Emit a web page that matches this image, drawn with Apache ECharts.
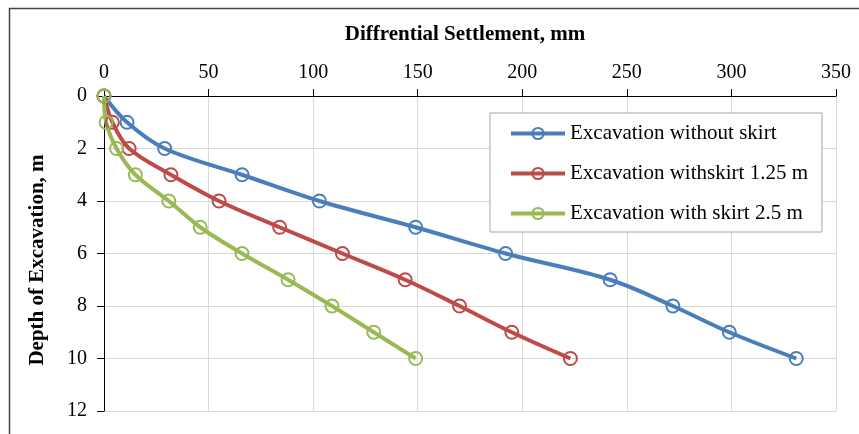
<!DOCTYPE html>
<html>
<head>
<meta charset="utf-8">
<script src="https://cdn.jsdelivr.net/npm/echarts@6/dist/echarts.min.js"></script>
<style>
html,body{margin:0;padding:0;background:#fff;}
#chart{width:859px;height:434px;}
</style>
</head>
<body>
<div id="chart"></div>
<script>
var depths = [0, 1, 2, 3, 4, 5, 6, 7, 8, 9, 10];
var withoutSkirt = [0, 11, 29, 66, 103, 149, 192, 242, 272, 299, 331];
var skirt125 = [0, 4, 12, 32, 55, 84, 114, 144, 170, 195, 223];
var skirt25 = [0, 1, 6, 15, 31, 46, 66, 88, 109, 129, 149];
var seriesNames = ['Excavation without skirt', 'Excavation withskirt 1.25 m', 'Excavation with skirt 2.5 m'];
var seriesColors = ['#4A7EBB', '#BE4B48', '#98B954'];
var xTitle = 'Diffrential Settlement, mm';
var yTitle = 'Depth of Excavation, m';

function pairs(xs) { return xs.map(function (v, i) { return [v, depths[i]]; }); }
var allValues = [withoutSkirt, skirt125, skirt25];
var font = 'Liberation Serif, Times New Roman, serif';

var chart = echarts.init(document.getElementById('chart'), null, {renderer: 'canvas'});
chart.setOption({
  backgroundColor: '#fff',
  animation: false,
  textStyle: {fontFamily: font},
  graphic: [{
    type: 'rect', left: 7, top: 6, silent: true, z: -10,
    shape: {x: 0, y: 0, width: 900, height: 500},
    style: {fill: 'none', stroke: '#444', lineWidth: 1.5}
  }, {
    type: 'text', x: 465, y: 35,
    style: {text: xTitle, font: 'bold 21px ' + font, fill: '#000', align: 'center', verticalAlign: 'middle'}
  }, {
    type: 'text', x: 38, y: 260, rotation: Math.PI / 2,
    style: {text: yTitle, font: 'bold 21px ' + font, fill: '#000', align: 'center', verticalAlign: 'middle'}
  }],
  grid: {left: 104, top: 96, right: 23, bottom: 23, containLabel: false},
  legend: {
    orient: 'vertical', left: 490, top: 113,
    backgroundColor: '#fff', borderColor: '#a6a6a6', borderWidth: 1,
    padding: [10, 14, 8, 19],
    itemWidth: 54, itemHeight: 14, itemGap: 19,
    lineStyle: {width: 4},
    textStyle: {fontFamily: font, fontSize: 21, color: '#000'},
    data: seriesNames
  },
  xAxis: {
    type: 'value', position: 'top', min: 0, max: 350, interval: 50,
    axisLine: {show: true, lineStyle: {color: '#000', width: 1}},
    axisTick: {show: true, length: 7, inside: false, lineStyle: {color: '#000'}},
    axisLabel: {fontFamily: font, fontSize: 20, color: '#000', margin: 13},
    splitLine: {show: true, lineStyle: {color: '#d9d9d9', width: 1}}
  },
  yAxis: {
    type: 'value', inverse: true, min: 0, max: 12, interval: 2,
    axisLine: {show: true, lineStyle: {color: '#000', width: 1}},
    axisTick: {show: true, length: 7, lineStyle: {color: '#000'}},
    axisLabel: {fontFamily: font, fontSize: 20, color: '#000', margin: 17},
    splitLine: {show: true, lineStyle: {color: '#d9d9d9', width: 1}}
  },
  series: allValues.map(function (vals, k) {
    return {
      name: seriesNames[k], type: 'line', data: pairs(vals),
      smooth: 0.35, symbol: 'circle', symbolSize: 13,
      color: seriesColors[k],
      lineStyle: {color: seriesColors[k], width: 4},
      itemStyle: {color: 'rgba(255,255,255,0)', borderColor: seriesColors[k], borderWidth: 2}
    };
  })
});
</script>
</body>
</html>
